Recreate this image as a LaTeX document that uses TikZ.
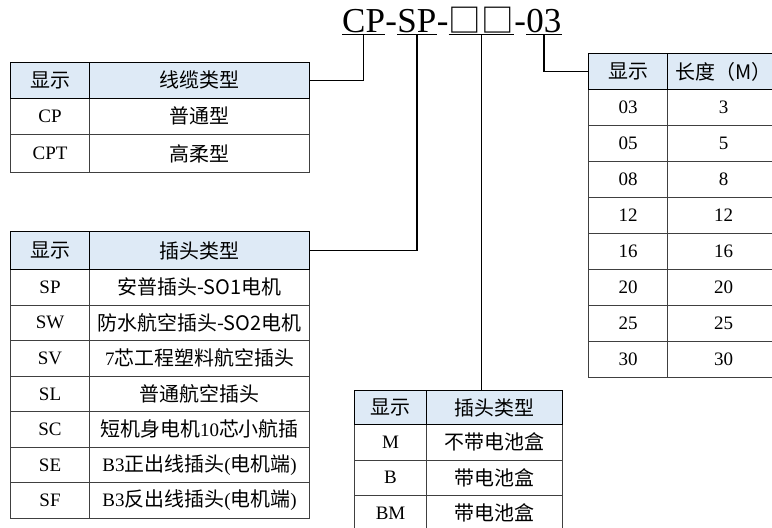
\documentclass[tikz,border=0pt]{standalone}
\usepackage{fontspec}
\setmainfont{Liberation Serif}
\newfontfamily\cjk{Noto Sans CJK SC}[Scale=1.05]
\usepackage{tikz}
\usetikzlibrary{positioning}

\definecolor{headblue}{RGB}{222,234,246}
\definecolor{rowline}{RGB}{64,64,64}

\tikzset{
    cell/.style={draw=rowline, line width=1.1pt, inner sep=0pt, anchor=north west,
        minimum height=35.5pt, font=\fontsize{19}{19}\selectfont},
    headcell/.style={cell, draw=black, fill=headblue},
    part/.style={inner sep=0pt, font=\fontsize{35}{35}\selectfont},
    lead/.style={draw=black, line width=1.4pt},
}

\begin{document}
\begin{tikzpicture}[x=1pt,y=-1pt]
    \useasboundingbox (0,0) rectangle (772,528);

    % model code
    \node[part, anchor=base west] (cp) at (342,32) {CP};
    \node[part, base right=0pt of cp] (d1) {-};
    \node[part, base right=0pt of d1] (sp) {SP};
    \node[part, base right=0pt of sp] (d2) {-};
    \node[part, base right=0pt of d2] (box) {\fontsize{31}{31}\selectfont\cjk □□};
    \node[part, base right=0pt of box] (d3) {-};
    \node[part, base right=0pt of d3] (len) {03};

    \foreach \p in {cp,sp,box,len}
        \draw[lead] ([yshift=-2.5pt]\p.base west) -- ([yshift=-2.5pt]\p.base east);

    % cable type
    \begin{scope}[every node/.style={minimum height=36pt}]
        \node[cell, minimum width=79pt] (t1r1a) at (10,98) {CP};
        \node[cell, minimum width=220pt] (t1r1b) at (89,98) {\cjk 普通型};
        \node[cell, minimum width=79pt, minimum height=38pt] (t1r2a) at (10,134) {CPT};
        \node[cell, minimum width=220pt, minimum height=38pt] (t1r2b) at (89,134) {\cjk 高柔型};
        \node[headcell, minimum width=79pt] (t1ha) at (10,62) {\cjk 显示};
        \node[headcell, minimum width=220pt] (t1hb) at (89,62) {\cjk 线缆类型};
    \end{scope}

    % plug type
    \node[cell, minimum width=79pt] (t2r1a) at (10,269) {SP};
    \node[cell, minimum width=220pt] (t2r1b) at (89,269) {\cjk 安普插头-SO1电机};
    \node[cell, minimum width=79pt] (t2r2a) at (10,304.5) {SW};
    \node[cell, minimum width=220pt] (t2r2b) at (89,304.5) {\cjk 防水航空插头-SO2电机};
    \node[cell, minimum width=79pt] (t2r3a) at (10,340) {SV};
    \node[cell, minimum width=220pt] (t2r3b) at (89,340) {7{\cjk 芯工程塑料航空插头}};
    \node[cell, minimum width=79pt] (t2r4a) at (10,375.5) {SL};
    \node[cell, minimum width=220pt] (t2r4b) at (89,375.5) {\cjk 普通航空插头};
    \node[cell, minimum width=79pt] (t2r5a) at (10,411) {SC};
    \node[cell, minimum width=220pt] (t2r5b) at (89,411) {{\cjk 短机身电机}10{\cjk 芯小航插}};
    \node[cell, minimum width=79pt] (t2r6a) at (10,446.5) {SE};
    \node[cell, minimum width=220pt] (t2r6b) at (89,446.5) {B3{\cjk 正出线插头}({\cjk 电机端})};
    \node[cell, minimum width=79pt] (t2r7a) at (10,482) {SF};
    \node[cell, minimum width=220pt] (t2r7b) at (89,482) {B3{\cjk 反出线插头}({\cjk 电机端})};
    \node[headcell, minimum width=79pt, minimum height=38pt] (t2ha) at (10,231) {\cjk 显示};
    \node[headcell, minimum width=220pt, minimum height=38pt] (t2hb) at (89,231) {\cjk 插头类型};

    % battery box
    \node[cell, minimum width=72pt] (t3r1a) at (354,424) {M};
    \node[cell, minimum width=136pt] (t3r1b) at (426,424) {\cjk 不带电池盒};
    \node[cell, minimum width=72pt] (t3r2a) at (354,459.5) {B};
    \node[cell, minimum width=136pt] (t3r2b) at (426,459.5) {\cjk 带电池盒};
    \node[cell, minimum width=72pt] (t3r3a) at (354,495) {BM};
    \node[cell, minimum width=136pt] (t3r3b) at (426,495) {\cjk 带电池盒};
    \node[headcell, minimum width=72pt, minimum height=34pt] (t3ha) at (354,390) {\cjk 显示};
    \node[headcell, minimum width=136pt, minimum height=34pt] (t3hb) at (426,390) {\cjk 插头类型};

    % length
    \begin{scope}[every node/.style={minimum height=36pt}]
        \node[cell, minimum width=79pt] (t4r1a) at (588,89) {03};
        \node[cell, minimum width=112pt] (t4r1b) at (667,89) {3};
        \node[cell, minimum width=79pt] (t4r2a) at (588,125) {05};
        \node[cell, minimum width=112pt] (t4r2b) at (667,125) {5};
        \node[cell, minimum width=79pt] (t4r3a) at (588,161) {08};
        \node[cell, minimum width=112pt] (t4r3b) at (667,161) {8};
        \node[cell, minimum width=79pt] (t4r4a) at (588,197) {12};
        \node[cell, minimum width=112pt] (t4r4b) at (667,197) {12};
        \node[cell, minimum width=79pt] (t4r5a) at (588,233) {16};
        \node[cell, minimum width=112pt] (t4r5b) at (667,233) {16};
        \node[cell, minimum width=79pt] (t4r6a) at (588,269) {20};
        \node[cell, minimum width=112pt] (t4r6b) at (667,269) {20};
        \node[cell, minimum width=79pt] (t4r7a) at (588,305) {25};
        \node[cell, minimum width=112pt] (t4r7b) at (667,305) {25};
        \node[cell, minimum width=79pt] (t4r8a) at (588,341) {30};
        \node[cell, minimum width=112pt] (t4r8b) at (667,341) {30};
        \node[headcell, minimum width=79pt, minimum height=36pt] (t4ha) at (588,53) {\cjk 显示};
        \node[headcell, minimum width=112pt, minimum height=36pt] (t4hb) at (667,53) {\cjk 长度（M）};
    \end{scope}

    % leaders
    \draw[lead] ([yshift=-2.5pt]cp.base) |- (t1hb.east);
    \draw[lead] ([yshift=-2.5pt]sp.base) |- (t2hb.east);
    \draw[lead] ([yshift=-2.5pt]box.base) -- (box.base |- t3hb.north);
    \draw[lead] ([yshift=-2.5pt]len.base) |- (t4ha.west);
\end{tikzpicture}
\end{document}
